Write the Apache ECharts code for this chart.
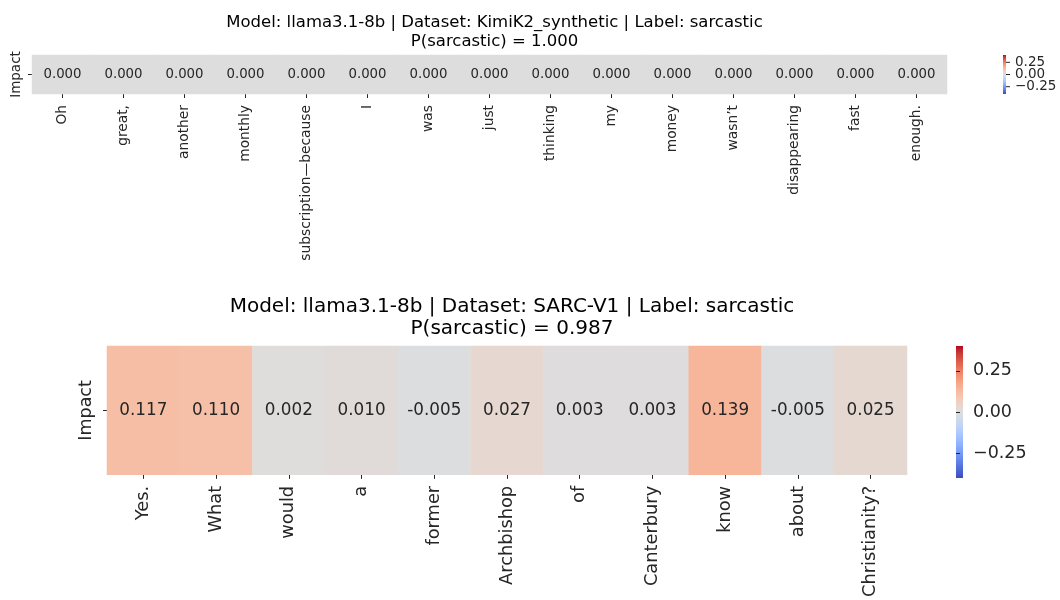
<!DOCTYPE html>
<html>
<head>
<meta charset="utf-8">
<script src="https://cdn.jsdelivr.net/npm/echarts@6/dist/echarts.min.js"></script>
<style>
  html, body { margin: 0; padding: 0; background: #fff; }
  #chart { width: 1060px; height: 600px; }
</style>
</head>
<body>
<div id="chart"></div>
<script>
// Token-level impact for two sarcastic examples
const tokensTop = ['Oh', 'great,', 'another', 'monthly', 'subscription\u2014because', 'I', 'was', 'just',
  'thinking', 'my', 'money', 'wasn\u2019t', 'disappearing', 'fast', 'enough.'];
const impactTop = [0.000, 0.000, 0.000, 0.000, 0.000, 0.000, 0.000, 0.000,
  0.000, 0.000, 0.000, 0.000, 0.000, 0.000, 0.000];

const tokensBottom = ['Yes.', 'What', 'would', 'a', 'former', 'Archbishop', 'of', 'Canterbury',
  'know', 'about', 'Christianity?'];
const impactBottom = [0.117, 0.110, 0.002, 0.010, -0.005, 0.027, 0.003, 0.003, 0.139, -0.005, 0.025];

const rowLabel = ['Impact'];
const titleTop = 'Model: llama3.1-8b | Dataset: KimiK2_synthetic | Label: sarcastic\nP(sarcastic) = 1.000';
const titleBottom = 'Model: llama3.1-8b | Dataset: SARC-V1 | Label: sarcastic\nP(sarcastic) = 0.987';
const colorbarTicks = [-0.25, 0, 0.25];
const scaleMin = -0.4, scaleMax = 0.4;

// coolwarm diverging palette, low -> high
const coolwarm = [
  '#3b4cc0', '#445acc', '#4d68d7', '#5775e1', '#6282ea', '#6c8ef1', '#779af7', '#82a5fb',
  '#8db0fe', '#98b9ff', '#a3c2ff', '#aec9fd', '#b8d0f9', '#c2d5f4', '#ccd9ee', '#d5dbe6',
  '#dddddd', '#e5d8d1', '#ecd3c5', '#f1ccb9', '#f5c4ad', '#f7bba0', '#f7b194', '#f7a687',
  '#f49a7b', '#f18d6f', '#ec7f63', '#e57058', '#de604d', '#d55042', '#cb3e38', '#c0282f',
  '#b40426'
];

const FONT = 'DejaVu Sans';
const INK = '#262626';

const toCells = vals => vals.map((v, i) => [i, 0, v]);
const fmt3 = p => p.value[2].toFixed(3);
const fmtTick = v => (v < 0 ? '\u2212' : '') + Math.abs(v).toFixed(2);

// layout (pixels)
const gTop = { left: 32, top: 55, width: 915, height: 39 };
const gBot = { left: 107, top: 346, width: 800, height: 132 };
const cbTop = { left: 1003, top: 55, width: 3, height: 39 };
const cbBot = { left: 956, top: 346, width: 7, height: 132 };

function gradientRect(box) {
  return {
    type: 'rect',
    shape: { x: box.left, y: box.top, width: box.width, height: box.height },
    style: {
      fill: {
        type: 'linear', x: 0, y: 1, x2: 0, y2: 0,
        colorStops: coolwarm.map((c, i) => ({ offset: i / (coolwarm.length - 1), color: c }))
      }
    },
    silent: true
  };
}

function catX(gridIndex, data, size, margin) {
  return {
    type: 'category', gridIndex, data,
    axisLine: { show: false },
    axisTick: { show: true, alignWithLabel: true, length: 4, lineStyle: { color: INK } },
    axisLabel: { interval: 0, rotate: 90, margin, fontSize: size, color: INK, fontFamily: FONT },
    splitLine: { show: false }
  };
}
function catY(gridIndex, size, margin) {
  return {
    type: 'category', gridIndex, data: rowLabel,
    axisLine: { show: false },
    axisTick: { show: true, alignWithLabel: true, length: 4, lineStyle: { color: INK } },
    axisLabel: { rotate: 90, margin, fontSize: size, color: INK, fontFamily: FONT },
    splitLine: { show: false }
  };
}
function barAxis(gridIndex, size, margin, showMarks) {
  return {
    type: 'value', gridIndex, position: 'right', min: scaleMin, max: scaleMax,
    axisLine: { show: false },
    axisTick: { show: showMarks, length: 4, customValues: colorbarTicks, lineStyle: { color: INK } },
    axisLabel: {
      show: showMarks, customValues: colorbarTicks, formatter: fmtTick, margin,
      fontSize: size, color: INK, fontFamily: FONT
    },
    splitLine: { show: false }
  };
}
function hiddenX(gridIndex) {
  return { type: 'value', gridIndex, show: false, min: 0, max: 1 };
}

const baseGraphic = [gradientRect(cbTop), gradientRect(cbBot)];

const option = {
  backgroundColor: '#fff',
  animation: false,
  textStyle: { fontFamily: FONT },
  title: [
    {
      text: titleTop, left: gTop.left + gTop.width / 2, top: 8, textAlign: 'center',
      textStyle: { fontSize: 16.5, fontWeight: 'normal', color: '#000', lineHeight: 19, fontFamily: FONT }
    },
    {
      text: titleBottom, left: gBot.left + gBot.width / 2, top: 291, textAlign: 'center',
      textStyle: { fontSize: 20, fontWeight: 'normal', color: '#000', lineHeight: 22, fontFamily: FONT }
    }
  ],
  grid: [
    Object.assign({}, gTop),
    Object.assign({}, gBot),
    Object.assign({}, cbTop),
    Object.assign({}, cbBot)
  ],
  xAxis: [catX(0, tokensTop, 13.8, 11), catX(1, tokensBottom, 17.8, 11), hiddenX(2), hiddenX(3)],
  yAxis: [catY(0, 13.5, 9), catY(1, 17.5, 12), barAxis(2, 13.5, 9, false), barAxis(3, 17.5, 10, true)],
  visualMap: [
    { type: 'continuous', show: false, min: scaleMin, max: scaleMax, seriesIndex: 0, dimension: 2, inRange: { color: coolwarm } },
    { type: 'continuous', show: false, min: scaleMin, max: scaleMax, seriesIndex: 1, dimension: 2, inRange: { color: coolwarm } }
  ],
  series: [
    {
      type: 'heatmap', xAxisIndex: 0, yAxisIndex: 0, data: toCells(impactTop),
      label: { show: true, formatter: fmt3, fontSize: 13.3, color: INK, fontFamily: FONT },
      itemStyle: { borderWidth: 0 },
      emphasis: { disabled: true }
    },
    {
      type: 'heatmap', xAxisIndex: 1, yAxisIndex: 1, data: toCells(impactBottom),
      label: { show: true, formatter: fmt3, fontSize: 16.8, color: INK, fontFamily: FONT },
      itemStyle: { borderWidth: 0 },
      emphasis: { disabled: true }
    }
  ],
  graphic: baseGraphic
};

const chart = echarts.init(document.getElementById('chart'), null, { renderer: 'canvas' });
chart.setOption(option);

// The small colorbar's tick labels sit closer than the axis allows, so its
// ticks and labels are placed from the axis scale by hand.
const barX = cbTop.left + cbTop.width;
const smallMarks = [];
colorbarTicks.forEach(v => {
  const y = chart.convertToPixel({ yAxisIndex: 2 }, v);
  smallMarks.push({
    type: 'line', silent: true,
    shape: { x1: barX, y1: y, x2: barX + 4, y2: y },
    style: { stroke: INK, lineWidth: 1 }
  });
  smallMarks.push({
    type: 'text', silent: true, x: barX + 9, y: y,
    style: { text: fmtTick(v), fill: INK, fontSize: 13.5, fontFamily: FONT, verticalAlign: 'middle', align: 'left' }
  });
});
chart.setOption({ graphic: baseGraphic.concat(smallMarks) });
</script>
</body>
</html>
